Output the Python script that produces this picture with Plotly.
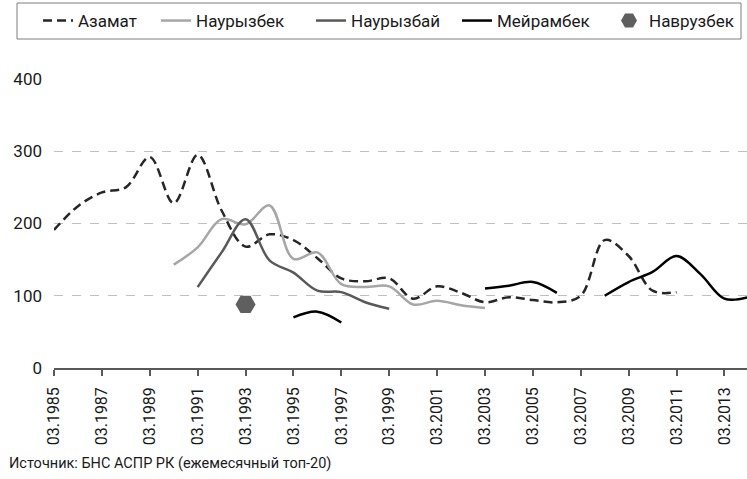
import plotly.graph_objects as go

years = list(range(1985, 2015))
tick_years = list(range(1985, 2014, 2))
tick_labels = [f"03.{y}" for y in tick_years]

azamat = [191, 224, 243, 250, 292, 228, 295, 218, 168, 185, 177, 152, 124, 120, 124,
          96, 113, 104, 91, 98, 94, 91, 100, 177, 155, 107, 105, None, None, None]
naur_bek = [None, None, None, None, None, 143, 167, 206, 199, 225, 151, 160, 116, 112, 113,
            88, 93, 87, 83, None, None, None, None, None, None, None, None, None, None, None]
naur_bay = [None, None, None, None, None, None, 112, 160, 206, 149, 132, 107, 105, 91, 82,
            None, None, None, None, None, None, None, None, None, None, None, None, None, None, None]
meiram = [None, None, None, None, None, None, None, None, None, None, 70, 78, 63, None, None,
          None, None, None, 110, 114, 119, 104, None, 100, 119, 133, 155, 130, 96, 98]
navruz_year = [1993]
navruz_val = [88]

def xpos(ys):
    return [y + 2 / 12 for y in ys]

FONT = "Roboto, sans-serif"
L, T, PW, PH = 54, 79, 693, 289

def px(x):
    return (x - L) / PW

def py(y):
    return 1 + (T - y) / PH

fig = go.Figure()
fig.add_trace(go.Scatter(x=xpos(years), y=azamat, name="Азамат", mode="lines", legend="legend",
                         line=dict(color="#262626", width=2.5, dash="9px,5px", shape="spline", smoothing=1),
                         connectgaps=False))
fig.add_trace(go.Scatter(x=xpos(years), y=naur_bek, name="Наурызбек", mode="lines", legend="legend2",
                         line=dict(color="#a6a6a6", width=2.5, shape="spline", smoothing=1),
                         connectgaps=False))
fig.add_trace(go.Scatter(x=xpos(years), y=naur_bay, name="Наурызбай", mode="lines", legend="legend3",
                         line=dict(color="#595959", width=2.5, shape="spline", smoothing=1),
                         connectgaps=False))
fig.add_trace(go.Scatter(x=xpos(years), y=meiram, name="Мейрамбек", mode="lines", legend="legend4",
                         line=dict(color="#000000", width=2.5, shape="spline", smoothing=1),
                         connectgaps=False))
fig.add_trace(go.Scatter(x=xpos(navruz_year), y=navruz_val, name="Наврузбек", mode="markers",
                         legend="legend5",
                         marker=dict(symbol="hexagon2", size=20, color="#5f5f5f",
                                     line=dict(width=0))))

leg_common = dict(y=py(21), yanchor="middle", xanchor="left", borderwidth=0,
                  bgcolor="rgba(0,0,0,0)", font=dict(size=17, color="#1a1a1a"))
text_starts = [79, 197, 352, 498, 650]
leg_x = [px(t - 41) for t in text_starts]

fig.update_layout(
    width=747, height=479,
    margin=dict(l=L, r=0, t=T, b=111),
    paper_bgcolor="white", plot_bgcolor="white",
    font=dict(family=FONT, size=17, color="#1a1a1a"),
    showlegend=True,
    legend=dict(x=leg_x[0], **leg_common),
    legend2=dict(x=leg_x[1], **leg_common),
    legend3=dict(x=leg_x[2], **leg_common),
    legend4=dict(x=leg_x[3], **leg_common),
    legend5=dict(x=leg_x[4], **leg_common),
    xaxis=dict(range=[1985 + 2 / 12, 2014.11], tickmode="array",
               tickvals=xpos(tick_years), ticktext=tick_labels, tickangle=-90,
               ticks="outside", ticklen=6, tickcolor="#595959", tickwidth=1.5,
               showline=True, linecolor="#595959", linewidth=1.5, ticklabelstandoff=5,
               showgrid=False, zeroline=False, tickfont=dict(size=16)),
    yaxis=dict(range=[0, 400], tickvals=[0, 100, 200, 300, 400],
               showgrid=True, gridcolor="#bfbfbf", griddash="dash", gridwidth=1,
               zeroline=False, showline=False, ticks="", ticklabelstandoff=11,
               tickfont=dict(size=17)),
    shapes=[dict(type="rect", xref="paper", yref="paper", x0=px(17), x1=px(741),
                 y0=py(39), y1=py(3), line=dict(color="#7f7f7f", width=1), layer="above")],
)
fig.add_annotation(text="Источник: БНС АСПР РК (ежемесячный топ-20)", xref="paper", yref="paper",
                   x=px(7), xanchor="left", y=py(463), yanchor="middle",
                   showarrow=False, font=dict(size=14.5, color="#1a1a1a"))
fig.write_html("out.html", config={"displayModeBar": False},
               post_script="document.body.style.margin='0px';")
